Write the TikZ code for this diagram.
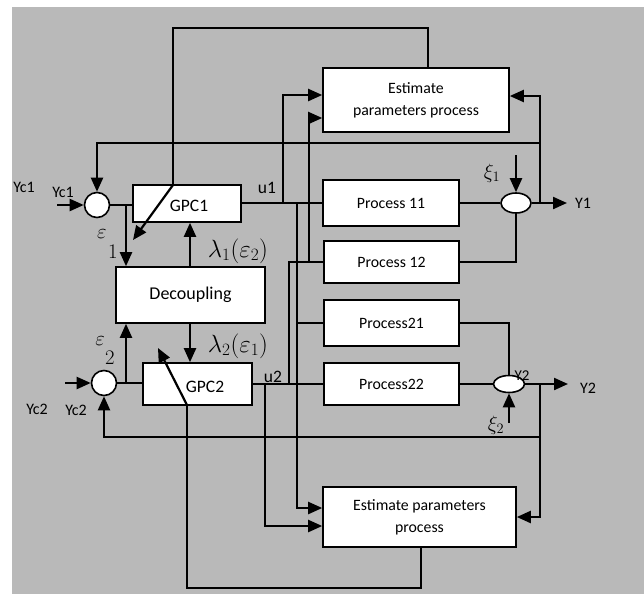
\documentclass[tikz,border=0pt]{standalone}
\usepackage{fontspec}
\setmainfont{Carlito}
\usetikzlibrary{arrows.meta,shapes.geometric}
\definecolor{bggray}{RGB}{185,185,185}
\tikzset{
  boxnode/.style={draw=black,fill=white,line width=1.6pt,rectangle,inner sep=0pt,font=\fontsize{15.8}{22}\selectfont,align=center},
  sumcirc/.style={draw=black,fill=white,line width=1.6pt,circle,inner sep=0pt,minimum size=25pt},
  sumell/.style={draw=black,fill=white,line width=1.6pt,ellipse,inner sep=0pt},
  thinw/.style={line width=1.3pt},
  thickw/.style={line width=2.2pt},
  arr/.style={thickw,-{Triangle[length=14pt,width=12pt]}},
  txt/.style={font=\fontsize{16}{18}\selectfont,inner sep=0pt},
  bigtxt/.style={font=\fontsize{17.5}{20}\selectfont,inner sep=0pt},
  smalltxt/.style={font=\fontsize{15}{16}\selectfont,inner sep=0pt},
  mathtxt/.style={font=\fontsize{21}{24}\selectfont,inner sep=0pt},
  lamtxt/.style={font=\fontsize{23}{26}\selectfont,inner sep=0pt}
}
\begin{document}
\begin{tikzpicture}[x=1pt,y=-1pt]
\useasboundingbox (0,0) rectangle (644,594);
\fill[bggray] (12,7) rectangle (644,594);

% blocks
\node[boxnode,minimum width=186pt,minimum height=64pt] (est1) at (416,100) {Estimate\\parameters process};
\node[boxnode,minimum width=193pt,minimum height=60pt] (est2) at (419.5,517) {Estimate parameters\\process};
\node[boxnode,minimum width=108pt,minimum height=37pt] (gpc1) at (187,203.5) {};
\node[bigtxt] (gpc1t) at (189,206) {GPC1};
\node[boxnode,minimum width=109pt,minimum height=42pt] (gpc2) at (197.5,384) {};
\node[bigtxt] (gpc2t) at (205,387) {GPC2};
\node[boxnode,minimum width=149pt,minimum height=56pt,font=\fontsize{18}{20}\selectfont] (dec) at (190.5,295) {Decoupling};
\node[boxnode,minimum width=136pt,minimum height=46pt] (p11) at (391,203) {Process 11};
\node[boxnode,minimum width=135pt,minimum height=42pt] (p12) at (391.5,262) {Process 12};
\node[boxnode,minimum width=135pt,minimum height=46pt] (p21) at (391.5,323) {Process21};
\node[boxnode,minimum width=135pt,minimum height=42pt] (p22) at (391.5,384) {Process22};
\node[sumcirc] (s1) at (97,205) {};
\node[sumcirc] (s2) at (104,383) {};
\node[sumell,minimum width=30pt,minimum height=20pt] (e1) at (516,203) {};
\node[sumell,minimum width=31pt,minimum height=17pt] (e2) at (509,384) {};

% coordinates
\coordinate (tl1) at (428,28);
\coordinate (tl2) at (173,28);
\coordinate (g1top) at (173,185);
\coordinate (g1tip) at (133,240);
\coordinate (bl1) at (421,588);
\coordinate (bl2) at (187,588);
\coordinate (g2bot) at (187,405);
\coordinate (g2tip) at (158,348);
\coordinate (fb1r) at (540,143);
\coordinate (y1j) at (540,203);
\coordinate (a1r) at (540,96);
\coordinate (y1out) at (567,203);
\coordinate (xi1s) at (516,155);
\coordinate (y2j) at (540,384);
\coordinate (a2r) at (540,517);
\coordinate (fb2r) at (540,437);
\coordinate (y2out) at (568,384);
\coordinate (xi2s) at (509,423);
\coordinate (yc1s) at (57,205);
\coordinate (yc2s) at (65,383);
\coordinate (b1) at (126,205);
\coordinate (b2) at (126,383);
\coordinate (d1) at (190,267);
\coordinate (d2) at (190,323);
\coordinate (ua) at (283,203);
\coordinate (uat) at (283,95);
\coordinate (ub) at (309,262);
\coordinate (ubt) at (309,118);
\coordinate (uc) at (297,203);
\coordinate (ucm) at (297,323);
\coordinate (ucb) at (297,508);
\coordinate (ud) at (289,384);
\coordinate (udt) at (289,262);
\coordinate (ue) at (265,384);
\coordinate (ueb) at (265,526);

% top loop (GPC1 adaptation)
\draw[thinw] (est1.north -| tl1) -- (tl1) -- (tl2) -- (g1top);
\draw[arr] (g1top) -- (g1tip);
% bottom loop (GPC2 adaptation)
\draw[thinw] (est2.south -| bl1) -- (bl1) -- (bl2) -- (g2bot);
\draw[arr] (g2bot) -- (g2tip);

% loop 1 feedback
\draw[arr] (y1j) -- (a1r) -- (est1.east |- a1r);
\draw[arr] (fb1r) -- (s1.north |- fb1r) -- (s1.north);
\draw[arr] (e1.east) -- (y1out);
\draw[arr] (xi1s) -- (e1.north);
\draw[thinw] (p11.east) -- (e1.west);
\draw[thinw] (p12.east) -| (e1.south);

% loop 2 feedback
\draw[arr] (y2j) -- (a2r) -- (est2.east |- a2r);
\draw[arr] (fb2r) -- (s2.south |- fb2r) -- (s2.south);
\draw[arr] (e2.east) -- (y2out);
\draw[arr] (xi2s) -- (e2.south);
\draw[thinw] (p21.east) -| (e2.north);
\draw[thinw] (p22.east) -- (e2.west);

% references and errors
\draw[arr] (yc1s) -- (s1.west);
\draw[arr] (yc2s) -- (s2.west);
\draw[thinw] (s1.east) -- (gpc1.west |- s1.east);
\draw[thinw] (s2.east) -- (gpc2.west |- s2.east);
\draw[arr] (b1) -- (b1 |- dec.north);
\draw[arr] (b2) -- (b2 |- dec.south);
\draw[arr] (d1) -- (d1 |- gpc1.south);
\draw[arr] (d2) -- (d2 |- gpc2.north);

% control signals
\draw[thinw] (gpc1.east |- p11.west) -- (p11.west);
\draw[thinw] (gpc2.east |- p22.west) -- (p22.west);
\draw[arr] (ua) -- (uat) -- (est1.west |- uat);
\draw[arr] (ub) -- (ubt) -- (est1.west |- ubt);
\draw[arr] (uc) -- (ucb) -- (est2.west |- ucb);
\draw[thinw] (ucm) -- (p21.west);
\draw[thinw] (ud) -- (udt) -- (p12.west);
\draw[arr] (ue) -- (ueb) -- (est2.west |- ueb);

% labels
\node[txt] (lyc1a) at (24,187) {Yc1};
\node[txt] (lyc1b) at (63,192) {Yc1};
\node[txt] (lyc2a) at (37,409) {Yc2};
\node[txt] (lyc2b) at (76,410) {Yc2};
\node[bigtxt] (lu1) at (267,188) {u1};
\node[bigtxt] (lu2) at (273,377) {u2};
\node[mathtxt] (leps1) at (102,234) {$\varepsilon$};
\node[mathtxt] (lone) at (113,252) {$1$};
\node[mathtxt] (leps2) at (100,341) {$\varepsilon$};
\node[mathtxt] (ltwo) at (110,358) {$2$};
\node[lamtxt] (llam1) at (238,251) {$\lambda_1(\varepsilon_2)$};
\node[lamtxt] (llam2) at (238,346) {$\lambda_2(\varepsilon_1)$};
\node[mathtxt] (lxi1) at (492,173) {$\xi_1$};
\node[mathtxt] (lxi2) at (496,425) {$\xi_2$};
\node[txt] (ly1) at (583,203) {Y1};
\node[txt] (ly2) at (588,388) {Y2};
\node[smalltxt] (ly2s) at (522,376) {Y2};
\end{tikzpicture}
\end{document}
